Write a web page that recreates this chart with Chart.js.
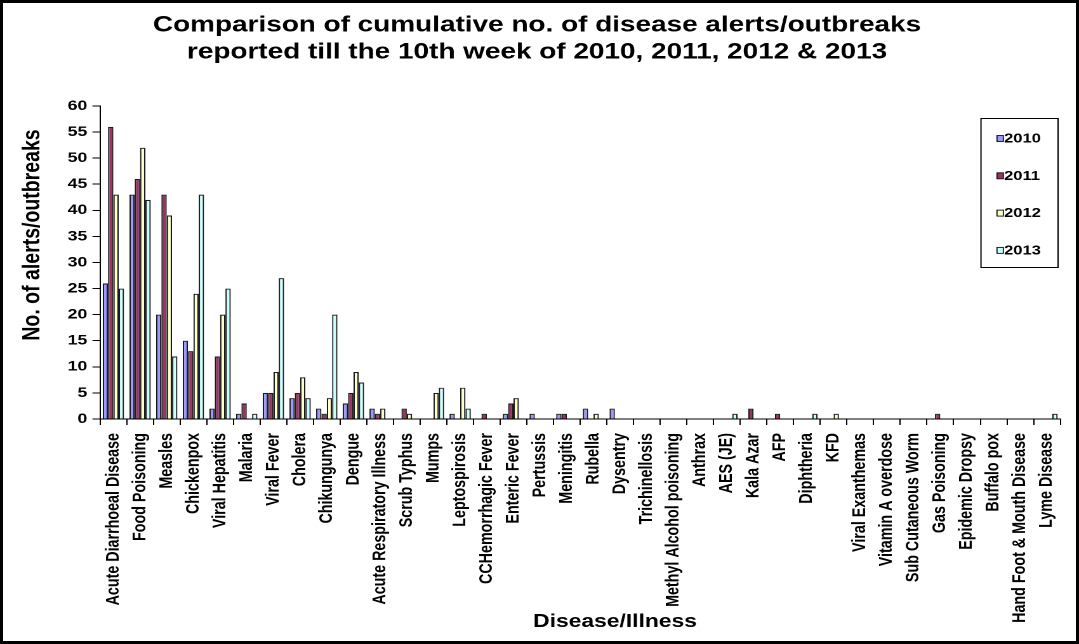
<!DOCTYPE html>
<html>
<head>
<meta charset="utf-8">
<script src="https://cdn.jsdelivr.net/npm/chart.js@4.4.1/dist/chart.umd.min.js"></script>
<style>
html,body{margin:0;padding:0;background:#fff;overflow:hidden;}
#wrap{position:relative;width:1079px;height:644px;overflow:hidden;background:#fff;}
#c{position:absolute;left:0;top:0;transform:scaleX(1.2694);transform-origin:0 0;}
#frame{position:absolute;left:0;top:0;width:1079px;height:644px;box-sizing:border-box;border:3px solid #000;pointer-events:none;}
</style>
</head>
<body>
<div id="wrap"><canvas id="c" width="850" height="644"></canvas><div id="frame"></div></div>
<script>
// ---- data ----
const categories = [
  'Acute Diarrhoeal Disease','Food Poisoning','Measles','Chickenpox','Viral Hepatitis','Malaria',
  'Viral Fever','Cholera','Chikungunya','Dengue','Acute Respiratory Illness','Scrub Typhus',
  'Mumps','Leptospirosis','CCHemorrhagic Fever','Enteric Fever','Pertussis','Meningitis',
  'Rubella','Dysentry','Trichinellosis','Methyl Alcohol poisoning','Anthrax','AES (JE)',
  'Kala Azar','AFP','Diphtheria','KFD','Viral Exanthemas','Vitamin A overdose',
  'Sub Cutaneous Worm','Gas Poisoning','Epidemic Dropsy','Buffalo pox','Hand Foot & Mouth Disease','Lyme Disease'
];
const values2010 = [26,43,20,15,2,1,5,4,2,3, 2,0,0,1,0,1,1,1,2,2, 0,0,0,0,0,0,0,0,0,0, 0,0,0,0,0,0];
const values2011 = [56,46,43,13,12,3,5,5,1,5, 1,2,0,0,1,3,0,1,0,0, 0,0,0,0,2,1,0,0,0,0, 0,1,0,0,0,0];
const values2012 = [43,52,39,24,20,0,9,8,4,9, 2,1,5,6,0,4,0,0,1,0, 0,0,0,0,0,0,0,1,0,0, 0,0,0,0,0,0];
const values2013 = [25,42,12,43,25,1,27,4,20,7, 0,0,6,2,0,0,0,0,0,0, 0,0,0,1,0,0,1,0,0,0, 0,0,0,0,0,1];
const seriesNames = ['2010','2011','2012','2013'];
const seriesColors = ['#9999ff','#993366','#ffffcc','#ccffff'];
const yTickValues = [0,5,10,15,20,25,30,35,40,45,50,55,60];
const chartTitle = ['Comparison of cumulative no. of disease alerts/outbreaks','reported till the 10th week of 2010, 2011, 2012 & 2013'];
const xTitle = 'Disease/Illness';
const yTitle = 'No. of alerts/outbreaks';

const FONT = '"Liberation Sans", Arial, Helvetica, sans-serif';
Chart.defaults.font.family = FONT;
Chart.defaults.color = '#000';

const seriesValues = [values2010, values2011, values2012, values2013];

const decor = {
  id: 'decor',
  beforeDraw(chart) {
    const ctx = chart.ctx;
    ctx.save();
    ctx.fillStyle = '#fff';
    ctx.fillRect(0, 0, chart.width, chart.height);
    ctx.restore();
  },
  afterDraw(chart) {
    const ctx = chart.ctx;
    ctx.save();
    ctx.fillStyle = '#000';
    ctx.textAlign = 'center';
    ctx.textBaseline = 'middle';
    ctx.font = 'bold 18px ' + FONT;
    ctx.fillText(xTitle, 484.5, 622);
    ctx.save();
    ctx.translate(25.6, 235);
    ctx.rotate(-Math.PI / 2);
    ctx.font = 'bold 19.5px ' + FONT;
    ctx.fillText(yTitle, 0, 0);
    ctx.restore();

    // legend box
    const lx = 772.8, ly = 118.5, lw = 60.7, lh = 149;
    ctx.fillStyle = '#fff';
    ctx.fillRect(lx, ly, lw, lh);
    ctx.strokeStyle = '#000';
    ctx.lineWidth = 1;
    ctx.strokeRect(lx, ly, lw, lh);
    ctx.font = 'bold 13px ' + FONT;
    ctx.textAlign = 'left';
    chart.data.datasets.forEach((ds, i) => {
      const cy = 138.5 + i * 37.3;
      ctx.fillStyle = ds.backgroundColor;
      ctx.fillRect(785.4, cy - 3, 5, 6);
      ctx.strokeStyle = '#111';
      ctx.lineWidth = 0.9;
      ctx.strokeRect(785.4, cy - 3, 5, 6);
      ctx.fillStyle = '#000';
      ctx.fillText(ds.label, 791, cy + 0.5);
    });
    ctx.restore();
  }
};

new Chart(document.getElementById('c'), {
  type: 'bar',
  data: {
    labels: categories,
    datasets: seriesNames.map((n, i) => ({
      label: n,
      data: seriesValues[i],
      backgroundColor: seriesColors[i],
      borderColor: '#1a1a1a',
      borderWidth: 1.1,
      categoryPercentage: 0.8,
      barPercentage: 1.0
    }))
  },
  options: {
    responsive: false,
    animation: false,
    devicePixelRatio: 2,
    layout: { padding: { left: 0, right: 3.9, top: 0, bottom: 0 } },
    plugins: {
      legend: { display: false },
      tooltip: { enabled: false },
      title: {
        display: true,
        text: chartTitle,
        color: '#000',
        font: { size: 22, weight: 'bold', lineHeight: 1.22 },
        padding: { top: 12, bottom: 40.3 }
      }
    },
    scales: {
      x: {
        offset: true,
        grid: { display: true, offset: true, drawOnChartArea: false, drawTicks: true, tickLength: 6, color: '#000', lineWidth: 1 },
        border: { display: true, color: '#000', width: 1 },
        ticks: { autoSkip: false, maxRotation: 90, minRotation: 90, padding: 8, color: '#000', font: { size: 14.3, weight: 'bold' } },
        afterFit(scale) { scale.height = 225; }
      },
      y: {
        min: 0, max: 60,
        afterBuildTicks(scale) { scale.ticks = yTickValues.map(v => ({ value: v })); },
        grid: { display: true, drawOnChartArea: false, drawTicks: true, tickLength: 6, color: '#000', lineWidth: 1 },
        border: { display: true, color: '#000', width: 1 },
        ticks: { padding: 4, color: '#000', font: { size: 14, weight: 'bold' } },
        afterFit(scale) { scale.width = 78.8; }
      }
    }
  },
  plugins: [decor]
});
</script>
</body>
</html>
